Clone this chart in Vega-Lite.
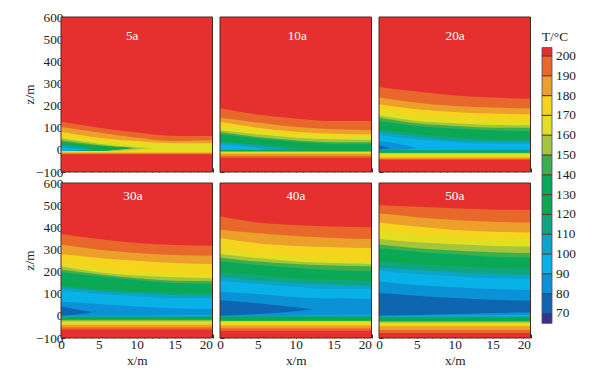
{"$schema":"https://vega.github.io/schema/vega-lite/v6.json","background":"white","padding":{"left":22,"top":10,"right":4,"bottom":4},"spacing":9,
"config":{"font":"Liberation Serif","view":{"stroke":null},"axis":{"grid":false,"labelFont":"Liberation Serif","titleFont":"Liberation Serif","labelFontSize":13.3,"titleFontSize":13.3,"titleFontWeight":"normal","labelColor":"#222","titleColor":"#222","tickColor":"#4a2a20","domain":false,"labelOverlap":false,"labelBound":false,"labelFlush":false,"zindex":1}},
"datasets":{"bar":[{"t":210,"lo":200,"hi":204.3},{"t":200,"lo":190,"hi":200},{"t":190,"lo":180,"hi":190},{"t":180,"lo":170,"hi":180},{"t":170,"lo":160,"hi":170},{"t":160,"lo":150,"hi":160},{"t":150,"lo":140,"hi":150},{"t":140,"lo":130,"hi":140},{"t":130,"lo":120,"hi":130},{"t":120,"lo":110,"hi":120},{"t":110,"lo":100,"hi":110},{"t":100,"lo":90,"hi":100},{"t":90,"lo":80,"hi":90},{"t":80,"lo":70,"hi":80},{"t":70,"lo":65,"hi":70}],
"iso":[
{"p":"5a","t":210,"x":0,"a":600,"b":-100},{"p":"5a","t":210,"x":20,"a":600,"b":-100},
{"p":"5a","t":200,"x":0,"a":127,"b":-20},{"p":"5a","t":200,"x":5,"a":100,"b":-20},{"p":"5a","t":200,"x":10,"a":78,"b":-20},{"p":"5a","t":200,"x":15,"a":63,"b":-20},{"p":"5a","t":200,"x":20,"a":63,"b":-20},
{"p":"5a","t":190,"x":0,"a":103,"b":-16},{"p":"5a","t":190,"x":5,"a":78,"b":-16},{"p":"5a","t":190,"x":10,"a":55,"b":-16},{"p":"5a","t":190,"x":15,"a":40,"b":-16},{"p":"5a","t":190,"x":20,"a":43,"b":-16},
{"p":"5a","t":180,"x":0,"a":82,"b":-12},{"p":"5a","t":180,"x":5,"a":55,"b":-12},{"p":"5a","t":180,"x":10,"a":40,"b":-12},{"p":"5a","t":180,"x":15,"a":30,"b":-12},{"p":"5a","t":180,"x":20,"a":30,"b":-12},
{"p":"5a","t":170,"x":0,"a":63,"b":-7},{"p":"5a","t":170,"x":5,"a":43,"b":-7},{"p":"5a","t":170,"x":10,"a":30,"b":-7},{"p":"5a","t":170,"x":15,"a":22,"b":-7},{"p":"5a","t":170,"x":20,"a":25,"b":-7},
{"p":"5a","t":160,"x":0,"a":52,"b":-5},{"p":"5a","t":160,"x":5,"a":28,"b":-5},{"p":"5a","t":160,"x":10,"a":12,"b":2},{"p":"5a","t":160,"x":12,"a":8,"b":8},
{"p":"5a","t":150,"x":0,"a":43,"b":-4},{"p":"5a","t":150,"x":5,"a":22,"b":-4},{"p":"5a","t":150,"x":9.7,"a":8,"b":8},
{"p":"5a","t":140,"x":0,"a":36,"b":-4},{"p":"5a","t":140,"x":5,"a":18,"b":-4},{"p":"5a","t":140,"x":9.5,"a":8,"b":8},
{"p":"5a","t":130,"x":0,"a":32,"b":-4},{"p":"5a","t":130,"x":5,"a":16,"b":-4},{"p":"5a","t":130,"x":9,"a":8,"b":8},
{"p":"5a","t":120,"x":0,"a":25,"b":-3},{"p":"5a","t":120,"x":2.5,"a":15,"b":-3},{"p":"5a","t":120,"x":4.5,"a":5,"b":5},
{"p":"5a","t":110,"x":0,"a":18,"b":-3},{"p":"5a","t":110,"x":2.5,"a":8,"b":-3},{"p":"5a","t":110,"x":4,"a":2,"b":2},
{"p":"5a","t":100,"x":0,"a":12,"b":-3},{"p":"5a","t":100,"x":2,"a":3,"b":-2},{"p":"5a","t":100,"x":3,"a":-1,"b":-1},

{"p":"10a","t":210,"x":0,"a":600,"b":-100},{"p":"10a","t":210,"x":20,"a":600,"b":-100},
{"p":"10a","t":200,"x":0,"a":188,"b":-36},{"p":"10a","t":200,"x":5,"a":160,"b":-36},{"p":"10a","t":200,"x":10,"a":142,"b":-36},{"p":"10a","t":200,"x":15,"a":130,"b":-36},{"p":"10a","t":200,"x":20,"a":130,"b":-36},
{"p":"10a","t":190,"x":0,"a":145,"b":-27},{"p":"10a","t":190,"x":5,"a":123,"b":-27},{"p":"10a","t":190,"x":10,"a":103,"b":-27},{"p":"10a","t":190,"x":15,"a":93,"b":-27},{"p":"10a","t":190,"x":20,"a":90,"b":-27},
{"p":"10a","t":180,"x":0,"a":127,"b":-17},{"p":"10a","t":180,"x":5,"a":100,"b":-17},{"p":"10a","t":180,"x":10,"a":82,"b":-17},{"p":"10a","t":180,"x":15,"a":73,"b":-17},{"p":"10a","t":180,"x":20,"a":70,"b":-17},
{"p":"10a","t":170,"x":0,"a":108,"b":-12},{"p":"10a","t":170,"x":5,"a":85,"b":-12},{"p":"10a","t":170,"x":10,"a":70,"b":-12},{"p":"10a","t":170,"x":15,"a":63,"b":-12},{"p":"10a","t":170,"x":20,"a":63,"b":-12},
{"p":"10a","t":160,"x":0,"a":88,"b":-9},{"p":"10a","t":160,"x":5,"a":70,"b":-9},{"p":"10a","t":160,"x":10,"a":55,"b":-9},{"p":"10a","t":160,"x":15,"a":48,"b":-9},{"p":"10a","t":160,"x":20,"a":45,"b":-9},
{"p":"10a","t":150,"x":0,"a":81,"b":-7},{"p":"10a","t":150,"x":5,"a":58,"b":-7},{"p":"10a","t":150,"x":10,"a":43,"b":-7},{"p":"10a","t":150,"x":15,"a":34,"b":-7},{"p":"10a","t":150,"x":20,"a":34,"b":-7},
{"p":"10a","t":140,"x":0,"a":70,"b":-5},{"p":"10a","t":140,"x":5,"a":52,"b":-5},{"p":"10a","t":140,"x":10,"a":37,"b":-5},{"p":"10a","t":140,"x":15,"a":28,"b":-5},{"p":"10a","t":140,"x":20,"a":28,"b":-5},
{"p":"10a","t":130,"x":0,"a":55,"b":-3},{"p":"10a","t":130,"x":5,"a":37,"b":-3},{"p":"10a","t":130,"x":10,"a":24,"b":-3},{"p":"10a","t":130,"x":15,"a":16,"b":-3},{"p":"10a","t":130,"x":20,"a":14,"b":-3},
{"p":"10a","t":120,"x":0,"a":37,"b":0},{"p":"10a","t":120,"x":5,"a":24,"b":0},{"p":"10a","t":120,"x":10,"a":10,"b":1},{"p":"10a","t":120,"x":12,"a":4,"b":4},
{"p":"10a","t":110,"x":0,"a":32,"b":0},{"p":"10a","t":110,"x":5,"a":19,"b":0},{"p":"10a","t":110,"x":9,"a":5,"b":5},
{"p":"10a","t":100,"x":0,"a":25,"b":0},{"p":"10a","t":100,"x":2.5,"a":18,"b":0},{"p":"10a","t":100,"x":5,"a":8,"b":1},{"p":"10a","t":100,"x":6,"a":3,"b":3},

{"p":"20a","t":210,"x":0,"a":600,"b":-100},{"p":"20a","t":210,"x":20,"a":600,"b":-100},
{"p":"20a","t":200,"x":0,"a":284,"b":-45},{"p":"20a","t":200,"x":5,"a":263,"b":-45},{"p":"20a","t":200,"x":10,"a":246,"b":-45},{"p":"20a","t":200,"x":15,"a":236,"b":-45},{"p":"20a","t":200,"x":20,"a":231,"b":-45},
{"p":"20a","t":190,"x":0,"a":236,"b":-40},{"p":"20a","t":190,"x":5,"a":213,"b":-40},{"p":"20a","t":190,"x":10,"a":198,"b":-40},{"p":"20a","t":190,"x":15,"a":191,"b":-40},{"p":"20a","t":190,"x":20,"a":188,"b":-40},
{"p":"20a","t":180,"x":0,"a":206,"b":-35},{"p":"20a","t":180,"x":5,"a":183,"b":-35},{"p":"20a","t":180,"x":10,"a":171,"b":-35},{"p":"20a","t":180,"x":15,"a":164,"b":-35},{"p":"20a","t":180,"x":20,"a":161,"b":-35},
{"p":"20a","t":170,"x":0,"a":183,"b":-23},{"p":"20a","t":170,"x":5,"a":156,"b":-23},{"p":"20a","t":170,"x":10,"a":142,"b":-23},{"p":"20a","t":170,"x":15,"a":133,"b":-23},{"p":"20a","t":170,"x":20,"a":130,"b":-23},
{"p":"20a","t":160,"x":0,"a":156,"b":-17},{"p":"20a","t":160,"x":5,"a":130,"b":-17},{"p":"20a","t":160,"x":10,"a":120,"b":-17},{"p":"20a","t":160,"x":15,"a":112,"b":-17},{"p":"20a","t":160,"x":20,"a":111,"b":-17},
{"p":"20a","t":150,"x":0,"a":145,"b":-14},{"p":"20a","t":150,"x":5,"a":120,"b":-14},{"p":"20a","t":150,"x":10,"a":108,"b":-14},{"p":"20a","t":150,"x":15,"a":100,"b":-14},{"p":"20a","t":150,"x":20,"a":99,"b":-14},
{"p":"20a","t":140,"x":0,"a":130,"b":-12},{"p":"20a","t":140,"x":5,"a":108,"b":-12},{"p":"20a","t":140,"x":10,"a":96,"b":-12},{"p":"20a","t":140,"x":15,"a":88,"b":-12},{"p":"20a","t":140,"x":20,"a":85,"b":-12},
{"p":"20a","t":130,"x":0,"a":110,"b":-7},{"p":"20a","t":130,"x":5,"a":90,"b":-7},{"p":"20a","t":130,"x":10,"a":77,"b":-7},{"p":"20a","t":130,"x":15,"a":68,"b":-7},{"p":"20a","t":130,"x":20,"a":65,"b":-7},
{"p":"20a","t":120,"x":0,"a":93,"b":-3},{"p":"20a","t":120,"x":5,"a":73,"b":-3},{"p":"20a","t":120,"x":10,"a":58,"b":-3},{"p":"20a","t":120,"x":15,"a":49,"b":-3},{"p":"20a","t":120,"x":20,"a":46,"b":-3},
{"p":"20a","t":110,"x":0,"a":81,"b":-2},{"p":"20a","t":110,"x":5,"a":60,"b":-2},{"p":"20a","t":110,"x":10,"a":45,"b":-2},{"p":"20a","t":110,"x":15,"a":40,"b":-2},{"p":"20a","t":110,"x":20,"a":37,"b":-2},
{"p":"20a","t":100,"x":0,"a":67,"b":-1},{"p":"20a","t":100,"x":5,"a":48,"b":-1},{"p":"20a","t":100,"x":10,"a":36,"b":0},{"p":"20a","t":100,"x":15,"a":28,"b":1},{"p":"20a","t":100,"x":20,"a":28,"b":2},
{"p":"20a","t":90,"x":0,"a":40,"b":0},{"p":"20a","t":90,"x":2.5,"a":28,"b":0},{"p":"20a","t":90,"x":5,"a":8,"b":8},
{"p":"20a","t":80,"x":0,"a":20,"b":0},{"p":"20a","t":80,"x":1.5,"a":8,"b":8},

{"p":"30a","t":210,"x":0,"a":600,"b":-100},{"p":"30a","t":210,"x":20,"a":600,"b":-100},
{"p":"30a","t":200,"x":0,"a":370,"b":-62},{"p":"30a","t":200,"x":5,"a":347,"b":-62},{"p":"30a","t":200,"x":10,"a":329,"b":-62},{"p":"30a","t":200,"x":15,"a":320,"b":-62},{"p":"30a","t":200,"x":20,"a":317,"b":-62},
{"p":"30a","t":190,"x":0,"a":322,"b":-52},{"p":"30a","t":190,"x":5,"a":299,"b":-52},{"p":"30a","t":190,"x":10,"a":284,"b":-52},{"p":"30a","t":190,"x":15,"a":275,"b":-52},{"p":"30a","t":190,"x":20,"a":272,"b":-52},
{"p":"30a","t":180,"x":0,"a":279,"b":-40},{"p":"30a","t":180,"x":5,"a":261,"b":-40},{"p":"30a","t":180,"x":10,"a":249,"b":-40},{"p":"30a","t":180,"x":15,"a":239,"b":-40},{"p":"30a","t":180,"x":20,"a":234,"b":-40},
{"p":"30a","t":170,"x":0,"a":239,"b":-32},{"p":"30a","t":170,"x":5,"a":215,"b":-32},{"p":"30a","t":170,"x":10,"a":201,"b":-32},{"p":"30a","t":170,"x":15,"a":192,"b":-32},{"p":"30a","t":170,"x":20,"a":189,"b":-32},
{"p":"30a","t":160,"x":0,"a":224,"b":-25},{"p":"30a","t":160,"x":5,"a":197,"b":-25},{"p":"30a","t":160,"x":10,"a":182,"b":-25},{"p":"30a","t":160,"x":15,"a":174,"b":-25},{"p":"30a","t":160,"x":20,"a":170,"b":-25},
{"p":"30a","t":150,"x":0,"a":209,"b":-20},{"p":"30a","t":150,"x":5,"a":188,"b":-20},{"p":"30a","t":150,"x":10,"a":170,"b":-20},{"p":"30a","t":150,"x":15,"a":159,"b":-20},{"p":"30a","t":150,"x":20,"a":157,"b":-20},
{"p":"30a","t":140,"x":0,"a":197,"b":-17},{"p":"30a","t":140,"x":5,"a":179,"b":-17},{"p":"30a","t":140,"x":10,"a":162,"b":-17},{"p":"30a","t":140,"x":15,"a":148,"b":-17},{"p":"30a","t":140,"x":20,"a":144,"b":-17},
{"p":"30a","t":130,"x":0,"a":166,"b":-12},{"p":"30a","t":130,"x":5,"a":150,"b":-12},{"p":"30a","t":130,"x":10,"a":136,"b":-12},{"p":"30a","t":130,"x":15,"a":126,"b":-12},{"p":"30a","t":130,"x":20,"a":123,"b":-12},
{"p":"30a","t":120,"x":0,"a":136,"b":-7},{"p":"30a","t":120,"x":5,"a":121,"b":-7},{"p":"30a","t":120,"x":10,"a":111,"b":-7},{"p":"30a","t":120,"x":15,"a":105,"b":-7},{"p":"30a","t":120,"x":20,"a":102,"b":-7},
{"p":"30a","t":110,"x":0,"a":129,"b":-3},{"p":"30a","t":110,"x":5,"a":111,"b":-3},{"p":"30a","t":110,"x":10,"a":102,"b":-3},{"p":"30a","t":110,"x":15,"a":94,"b":-3},{"p":"30a","t":110,"x":20,"a":91,"b":-3},
{"p":"30a","t":100,"x":0,"a":117,"b":-1},{"p":"30a","t":100,"x":5,"a":99,"b":-1},{"p":"30a","t":100,"x":10,"a":88,"b":-1},{"p":"30a","t":100,"x":15,"a":79,"b":-1},{"p":"30a","t":100,"x":20,"a":79,"b":-1},
{"p":"30a","t":90,"x":0,"a":64,"b":0},{"p":"30a","t":90,"x":5,"a":54,"b":0},{"p":"30a","t":90,"x":10,"a":42,"b":1},{"p":"30a","t":90,"x":15,"a":34,"b":3},{"p":"30a","t":90,"x":20,"a":31,"b":4},
{"p":"30a","t":80,"x":0,"a":42,"b":1},{"p":"30a","t":80,"x":2,"a":30,"b":5},{"p":"30a","t":80,"x":4.2,"a":16,"b":16},

{"p":"40a","t":210,"x":0,"a":600,"b":-100},{"p":"40a","t":210,"x":20,"a":600,"b":-100},
{"p":"40a","t":200,"x":0,"a":450,"b":-67},{"p":"40a","t":200,"x":5,"a":422,"b":-67},{"p":"40a","t":200,"x":10,"a":410,"b":-67},{"p":"40a","t":200,"x":15,"a":403,"b":-67},{"p":"40a","t":200,"x":20,"a":400,"b":-67},
{"p":"40a","t":190,"x":0,"a":389,"b":-56},{"p":"40a","t":190,"x":5,"a":373,"b":-56},{"p":"40a","t":190,"x":10,"a":361,"b":-56},{"p":"40a","t":190,"x":15,"a":352,"b":-56},{"p":"40a","t":190,"x":20,"a":347,"b":-56},
{"p":"40a","t":180,"x":0,"a":352,"b":-44},{"p":"40a","t":180,"x":5,"a":328,"b":-44},{"p":"40a","t":180,"x":10,"a":316,"b":-44},{"p":"40a","t":180,"x":15,"a":310,"b":-44},{"p":"40a","t":180,"x":20,"a":307,"b":-44},
{"p":"40a","t":170,"x":0,"a":299,"b":-35},{"p":"40a","t":170,"x":5,"a":279,"b":-35},{"p":"40a","t":170,"x":10,"a":267,"b":-35},{"p":"40a","t":170,"x":15,"a":257,"b":-35},{"p":"40a","t":170,"x":20,"a":252,"b":-35},
{"p":"40a","t":160,"x":0,"a":279,"b":-26},{"p":"40a","t":160,"x":5,"a":261,"b":-26},{"p":"40a","t":160,"x":10,"a":246,"b":-26},{"p":"40a","t":160,"x":15,"a":239,"b":-26},{"p":"40a","t":160,"x":20,"a":234,"b":-26},
{"p":"40a","t":150,"x":0,"a":264,"b":-23},{"p":"40a","t":150,"x":5,"a":245,"b":-23},{"p":"40a","t":150,"x":10,"a":234,"b":-23},{"p":"40a","t":150,"x":15,"a":227,"b":-23},{"p":"40a","t":150,"x":20,"a":224,"b":-23},
{"p":"40a","t":140,"x":0,"a":245,"b":-20},{"p":"40a","t":140,"x":5,"a":230,"b":-20},{"p":"40a","t":140,"x":10,"a":216,"b":-20},{"p":"40a","t":140,"x":15,"a":206,"b":-20},{"p":"40a","t":140,"x":20,"a":201,"b":-20},
{"p":"40a","t":130,"x":0,"a":221,"b":-12},{"p":"40a","t":130,"x":5,"a":207,"b":-12},{"p":"40a","t":130,"x":10,"a":193,"b":-12},{"p":"40a","t":130,"x":15,"a":185,"b":-12},{"p":"40a","t":130,"x":20,"a":180,"b":-12},
{"p":"40a","t":120,"x":0,"a":197,"b":-5},{"p":"40a","t":120,"x":5,"a":185,"b":-5},{"p":"40a","t":120,"x":10,"a":171,"b":-5},{"p":"40a","t":120,"x":15,"a":164,"b":-5},{"p":"40a","t":120,"x":20,"a":159,"b":-5},
{"p":"40a","t":110,"x":0,"a":177,"b":-2},{"p":"40a","t":110,"x":5,"a":159,"b":-2},{"p":"40a","t":110,"x":10,"a":148,"b":-2},{"p":"40a","t":110,"x":15,"a":141,"b":-2},{"p":"40a","t":110,"x":20,"a":136,"b":-2},
{"p":"40a","t":100,"x":0,"a":159,"b":0},{"p":"40a","t":100,"x":5,"a":144,"b":0},{"p":"40a","t":100,"x":10,"a":132,"b":0},{"p":"40a","t":100,"x":15,"a":121,"b":0},{"p":"40a","t":100,"x":20,"a":121,"b":0},
{"p":"40a","t":90,"x":0,"a":109,"b":1},{"p":"40a","t":90,"x":5,"a":99,"b":1},{"p":"40a","t":90,"x":10,"a":84,"b":2},{"p":"40a","t":90,"x":15,"a":79,"b":3},{"p":"40a","t":90,"x":20,"a":76,"b":4},
{"p":"40a","t":80,"x":0,"a":72,"b":1},{"p":"40a","t":80,"x":5,"a":57,"b":8},{"p":"40a","t":80,"x":10,"a":39,"b":21},{"p":"40a","t":80,"x":12.3,"a":30,"b":30},

{"p":"50a","t":210,"x":0,"a":600,"b":-100},{"p":"50a","t":210,"x":20,"a":600,"b":-100},
{"p":"50a","t":200,"x":0,"a":501,"b":-77},{"p":"50a","t":200,"x":5,"a":493,"b":-77},{"p":"50a","t":200,"x":10,"a":486,"b":-77},{"p":"50a","t":200,"x":15,"a":480,"b":-77},{"p":"50a","t":200,"x":20,"a":478,"b":-77},
{"p":"50a","t":190,"x":0,"a":463,"b":-64},{"p":"50a","t":190,"x":5,"a":445,"b":-64},{"p":"50a","t":190,"x":10,"a":433,"b":-64},{"p":"50a","t":190,"x":15,"a":425,"b":-64},{"p":"50a","t":190,"x":20,"a":422,"b":-64},
{"p":"50a","t":180,"x":0,"a":422,"b":-47},{"p":"50a","t":180,"x":5,"a":403,"b":-47},{"p":"50a","t":180,"x":10,"a":388,"b":-47},{"p":"50a","t":180,"x":15,"a":380,"b":-47},{"p":"50a","t":180,"x":20,"a":377,"b":-47},
{"p":"50a","t":170,"x":0,"a":385,"b":-38},{"p":"50a","t":170,"x":5,"a":365,"b":-38},{"p":"50a","t":170,"x":10,"a":356,"b":-38},{"p":"50a","t":170,"x":15,"a":350,"b":-38},{"p":"50a","t":170,"x":20,"a":347,"b":-38},
{"p":"50a","t":160,"x":0,"a":347,"b":-31},{"p":"50a","t":160,"x":5,"a":332,"b":-31},{"p":"50a","t":160,"x":10,"a":323,"b":-31},{"p":"50a","t":160,"x":15,"a":316,"b":-31},{"p":"50a","t":160,"x":20,"a":313,"b":-31},
{"p":"50a","t":150,"x":0,"a":322,"b":-26},{"p":"50a","t":150,"x":5,"a":305,"b":-26},{"p":"50a","t":150,"x":10,"a":295,"b":-26},{"p":"50a","t":150,"x":15,"a":287,"b":-26},{"p":"50a","t":150,"x":20,"a":284,"b":-26},
{"p":"50a","t":140,"x":0,"a":305,"b":-23},{"p":"50a","t":140,"x":5,"a":290,"b":-23},{"p":"50a","t":140,"x":10,"a":278,"b":-23},{"p":"50a","t":140,"x":15,"a":267,"b":-23},{"p":"50a","t":140,"x":20,"a":264,"b":-23},
{"p":"50a","t":130,"x":0,"a":277,"b":-15},{"p":"50a","t":130,"x":5,"a":262,"b":-15},{"p":"50a","t":130,"x":10,"a":251,"b":-15},{"p":"50a","t":130,"x":15,"a":243,"b":-15},{"p":"50a","t":130,"x":20,"a":240,"b":-15},
{"p":"50a","t":120,"x":0,"a":249,"b":-8},{"p":"50a","t":120,"x":5,"a":234,"b":-8},{"p":"50a","t":120,"x":10,"a":224,"b":-8},{"p":"50a","t":120,"x":15,"a":218,"b":-8},{"p":"50a","t":120,"x":20,"a":215,"b":-8},
{"p":"50a","t":110,"x":0,"a":219,"b":-5},{"p":"50a","t":110,"x":5,"a":207,"b":-5},{"p":"50a","t":110,"x":10,"a":197,"b":-5},{"p":"50a","t":110,"x":15,"a":189,"b":-5},{"p":"50a","t":110,"x":20,"a":186,"b":-5},
{"p":"50a","t":100,"x":0,"a":204,"b":-1},{"p":"50a","t":100,"x":5,"a":189,"b":-1},{"p":"50a","t":100,"x":10,"a":179,"b":-1},{"p":"50a","t":100,"x":15,"a":170,"b":-1},{"p":"50a","t":100,"x":20,"a":167,"b":-1},
{"p":"50a","t":90,"x":0,"a":155,"b":0},{"p":"50a","t":90,"x":5,"a":139,"b":1},{"p":"50a","t":90,"x":10,"a":129,"b":2},{"p":"50a","t":90,"x":15,"a":121,"b":3},{"p":"50a","t":90,"x":20,"a":117,"b":4},
{"p":"50a","t":80,"x":0,"a":103,"b":1},{"p":"50a","t":80,"x":5,"a":91,"b":4},{"p":"50a","t":80,"x":10,"a":81,"b":8},{"p":"50a","t":80,"x":15,"a":73,"b":13},{"p":"50a","t":80,"x":20,"a":69,"b":16}
]},
"data":{"name":"iso"},
"hconcat":[
{"concat":[
{"width":151.5,"height":155,"transform":[{"filter":"datum.p==='5a'"}],"layer":[
{"mark":{"type":"area","interpolate":"monotone"},"encoding":{
"x":{"field":"x","type":"quantitative","scale":{"domain":[0,20],"nice":false},"axis":{"labels":false,"title":null,"tickCount":20,"tickSize":{"condition":{"test":"datum.value%5===0","value":-4},"value":-2}}},
"y":{"field":"a","type":"quantitative","scale":{"domain":[-100,600],"nice":false},"axis":{"title":"z/m","titleX":-25,"titleY":77,"tickCount":35,"format":"d","labelPadding":2,"labelExpr":"datum.value%100===0?datum.label:''","tickSize":{"condition":{"test":"datum.value%100===0","value":-4},"value":-2}}},
"y2":{"field":"b"},
"color":{"field":"t","type":"ordinal","legend":null,"scale":{"domain":[210,200,190,180,170,160,150,140,130,120,110,100,90,80,70],"range":["#e6302f","#e8682c","#ec9f2b","#f5d41d","#e2df22","#a2c53c","#3bb04a","#09a85a","#0ba84f","#10a57f","#0ba5c9","#08b1e8","#0b92d6","#0f66b0","#3a3090"]}}}},
{"transform":[{"filter":"datum.t===210&&datum.x===0"}],"mark":{"type":"rect","fill":null,"stroke":"#4a2a20","strokeWidth":1},"encoding":{"x":{"datum":0,"type":"quantitative"},"x2":{"datum":20},"y":{"datum":-100,"type":"quantitative"},"y2":{"datum":600}}},
{"transform":[{"filter":"datum.t===210&&datum.x===0"}],"mark":{"type":"text","color":"white","fontSize":13.3,"font":"Liberation Serif"},"encoding":{"x":{"datum":9.4,"type":"quantitative"},"y":{"datum":514,"type":"quantitative"},"text":{"field":"p"}}}]},
{"width":151.5,"height":155,"transform":[{"filter":"datum.p==='10a'"}],"layer":[
{"mark":{"type":"area","interpolate":"monotone"},"encoding":{
"x":{"field":"x","type":"quantitative","scale":{"domain":[0,20],"nice":false},"axis":{"labels":false,"title":null,"tickCount":20,"tickSize":{"condition":{"test":"datum.value%5===0","value":-4},"value":-2}}},
"y":{"field":"a","type":"quantitative","scale":{"domain":[-100,600],"nice":false},"axis":{"labels":false,"title":null,"tickCount":35,"tickSize":{"condition":{"test":"datum.value%100===0","value":-4},"value":-2}}},
"y2":{"field":"b"},
"color":{"field":"t","type":"ordinal","legend":null,"scale":{"domain":[210,200,190,180,170,160,150,140,130,120,110,100,90,80,70],"range":["#e6302f","#e8682c","#ec9f2b","#f5d41d","#e2df22","#a2c53c","#3bb04a","#09a85a","#0ba84f","#10a57f","#0ba5c9","#08b1e8","#0b92d6","#0f66b0","#3a3090"]}}}},
{"transform":[{"filter":"datum.t===210&&datum.x===0"}],"mark":{"type":"rect","fill":null,"stroke":"#4a2a20","strokeWidth":1},"encoding":{"x":{"datum":0,"type":"quantitative"},"x2":{"datum":20},"y":{"datum":-100,"type":"quantitative"},"y2":{"datum":600}}},
{"transform":[{"filter":"datum.t===210&&datum.x===0"}],"mark":{"type":"text","color":"white","fontSize":13.3,"font":"Liberation Serif"},"encoding":{"x":{"datum":10.2,"type":"quantitative"},"y":{"datum":514,"type":"quantitative"},"text":{"field":"p"}}}]},
{"width":151.5,"height":155,"transform":[{"filter":"datum.p==='20a'"}],"layer":[
{"mark":{"type":"area","interpolate":"monotone"},"encoding":{
"x":{"field":"x","type":"quantitative","scale":{"domain":[0,20],"nice":false},"axis":{"labels":false,"title":null,"tickCount":20,"tickSize":{"condition":{"test":"datum.value%5===0","value":-4},"value":-2}}},
"y":{"field":"a","type":"quantitative","scale":{"domain":[-100,600],"nice":false},"axis":{"labels":false,"title":null,"tickCount":35,"tickSize":{"condition":{"test":"datum.value%100===0","value":-4},"value":-2}}},
"y2":{"field":"b"},
"color":{"field":"t","type":"ordinal","legend":null,"scale":{"domain":[210,200,190,180,170,160,150,140,130,120,110,100,90,80,70],"range":["#e6302f","#e8682c","#ec9f2b","#f5d41d","#e2df22","#a2c53c","#3bb04a","#09a85a","#0ba84f","#10a57f","#0ba5c9","#08b1e8","#0b92d6","#0f66b0","#3a3090"]}}}},
{"transform":[{"filter":"datum.t===210&&datum.x===0"}],"mark":{"type":"rect","fill":null,"stroke":"#4a2a20","strokeWidth":1},"encoding":{"x":{"datum":0,"type":"quantitative"},"x2":{"datum":20},"y":{"datum":-100,"type":"quantitative"},"y2":{"datum":600}}},
{"transform":[{"filter":"datum.t===210&&datum.x===0"}],"mark":{"type":"text","color":"white","fontSize":13.3,"font":"Liberation Serif"},"encoding":{"x":{"datum":10.05,"type":"quantitative"},"y":{"datum":514,"type":"quantitative"},"text":{"field":"p"}}}]},
{"width":151.5,"height":155,"transform":[{"filter":"datum.p==='30a'"}],"layer":[
{"mark":{"type":"area","interpolate":"monotone"},"encoding":{
"x":{"field":"x","type":"quantitative","scale":{"domain":[0,20],"nice":false},"axis":{"title":"x/m","titlePadding":1,"tickCount":20,"format":"d","labelPadding":3,"labelAlign":{"condition":{"test":"datum.value===20","value":"right"},"value":"center"},"labelExpr":"datum.value%5===0?datum.label:''","tickSize":{"condition":{"test":"datum.value%5===0","value":-4},"value":-2}}},
"y":{"field":"a","type":"quantitative","scale":{"domain":[-100,600],"nice":false},"axis":{"title":"z/m","titleX":-25,"titleY":77,"tickCount":35,"format":"d","labelPadding":2,"labelExpr":"datum.value%100===0?datum.label:''","tickSize":{"condition":{"test":"datum.value%100===0","value":-4},"value":-2}}},
"y2":{"field":"b"},
"color":{"field":"t","type":"ordinal","legend":null,"scale":{"domain":[210,200,190,180,170,160,150,140,130,120,110,100,90,80,70],"range":["#e6302f","#e8682c","#ec9f2b","#f5d41d","#e2df22","#a2c53c","#3bb04a","#09a85a","#0ba84f","#10a57f","#0ba5c9","#08b1e8","#0b92d6","#0f66b0","#3a3090"]}}}},
{"transform":[{"filter":"datum.t===210&&datum.x===0"}],"mark":{"type":"rect","fill":null,"stroke":"#4a2a20","strokeWidth":1},"encoding":{"x":{"datum":0,"type":"quantitative"},"x2":{"datum":20},"y":{"datum":-100,"type":"quantitative"},"y2":{"datum":600}}},
{"transform":[{"filter":"datum.t===210&&datum.x===0"}],"mark":{"type":"text","color":"white","fontSize":13.3,"font":"Liberation Serif"},"encoding":{"x":{"datum":9.5,"type":"quantitative"},"y":{"datum":543,"type":"quantitative"},"text":{"field":"p"}}}]},
{"width":151.5,"height":155,"transform":[{"filter":"datum.p==='40a'"}],"layer":[
{"mark":{"type":"area","interpolate":"monotone"},"encoding":{
"x":{"field":"x","type":"quantitative","scale":{"domain":[0,20],"nice":false},"axis":{"title":"x/m","titlePadding":1,"tickCount":20,"format":"d","labelPadding":3,"labelAlign":{"condition":{"test":"datum.value===20","value":"right"},"value":"center"},"labelExpr":"datum.value%5===0?datum.label:''","tickSize":{"condition":{"test":"datum.value%5===0","value":-4},"value":-2}}},
"y":{"field":"a","type":"quantitative","scale":{"domain":[-100,600],"nice":false},"axis":{"labels":false,"title":null,"tickCount":35,"tickSize":{"condition":{"test":"datum.value%100===0","value":-4},"value":-2}}},
"y2":{"field":"b"},
"color":{"field":"t","type":"ordinal","legend":null,"scale":{"domain":[210,200,190,180,170,160,150,140,130,120,110,100,90,80,70],"range":["#e6302f","#e8682c","#ec9f2b","#f5d41d","#e2df22","#a2c53c","#3bb04a","#09a85a","#0ba84f","#10a57f","#0ba5c9","#08b1e8","#0b92d6","#0f66b0","#3a3090"]}}}},
{"transform":[{"filter":"datum.t===210&&datum.x===0"}],"mark":{"type":"rect","fill":null,"stroke":"#4a2a20","strokeWidth":1},"encoding":{"x":{"datum":0,"type":"quantitative"},"x2":{"datum":20},"y":{"datum":-100,"type":"quantitative"},"y2":{"datum":600}}},
{"transform":[{"filter":"datum.t===210&&datum.x===0"}],"mark":{"type":"text","color":"white","fontSize":13.3,"font":"Liberation Serif"},"encoding":{"x":{"datum":10,"type":"quantitative"},"y":{"datum":543,"type":"quantitative"},"text":{"field":"p"}}}]},
{"width":151.5,"height":155,"transform":[{"filter":"datum.p==='50a'"}],"layer":[
{"mark":{"type":"area","interpolate":"monotone"},"encoding":{
"x":{"field":"x","type":"quantitative","scale":{"domain":[0,20],"nice":false},"axis":{"title":"x/m","titlePadding":1,"tickCount":20,"format":"d","labelPadding":3,"labelAlign":{"condition":{"test":"datum.value===20","value":"right"},"value":"center"},"labelExpr":"datum.value%5===0?datum.label:''","tickSize":{"condition":{"test":"datum.value%5===0","value":-4},"value":-2}}},
"y":{"field":"a","type":"quantitative","scale":{"domain":[-100,600],"nice":false},"axis":{"labels":false,"title":null,"tickCount":35,"tickSize":{"condition":{"test":"datum.value%100===0","value":-4},"value":-2}}},
"y2":{"field":"b"},
"color":{"field":"t","type":"ordinal","legend":null,"scale":{"domain":[210,200,190,180,170,160,150,140,130,120,110,100,90,80,70],"range":["#e6302f","#e8682c","#ec9f2b","#f5d41d","#e2df22","#a2c53c","#3bb04a","#09a85a","#0ba84f","#10a57f","#0ba5c9","#08b1e8","#0b92d6","#0f66b0","#3a3090"]}}}},
{"transform":[{"filter":"datum.t===210&&datum.x===0"}],"mark":{"type":"rect","fill":null,"stroke":"#4a2a20","strokeWidth":1},"encoding":{"x":{"datum":0,"type":"quantitative"},"x2":{"datum":20},"y":{"datum":-100,"type":"quantitative"},"y2":{"datum":600}}},
{"transform":[{"filter":"datum.t===210&&datum.x===0"}],"mark":{"type":"text","color":"white","fontSize":13.3,"font":"Liberation Serif"},"encoding":{"x":{"datum":10,"type":"quantitative"},"y":{"datum":543,"type":"quantitative"},"text":{"field":"p"}}}]}
],"columns":3,"spacing":{"row":11,"column":7},"bounds":"flush"},
{"data":{"name":"bar"},"width":10,"height":321,"layer":[
{"mark":{"type":"rect"},"encoding":{
"y":{"field":"hi","type":"quantitative","scale":{"domain":[57.6,219.7],"nice":false},"axis":null},
"y2":{"field":"lo"},
"color":{"field":"t","type":"ordinal","legend":null,"scale":{"domain":[210,200,190,180,170,160,150,140,130,120,110,100,90,80,70],"range":["#e6302f","#e8682c","#ec9f2b","#f5d41d","#e2df22","#a2c53c","#3bb04a","#09a85a","#0ba84f","#10a57f","#0ba5c9","#08b1e8","#0b92d6","#0f66b0","#3a3090"]}}}},
{"transform":[{"filter":"datum.t>70"}],"mark":{"type":"rule","color":"#5a3f20","strokeWidth":1.2},"encoding":{"y":{"field":"lo","type":"quantitative"}}},
{"transform":[{"filter":"datum.t>70"}],"mark":{"type":"text","font":"Liberation Serif","fontSize":13.3,"color":"#222","align":"left","dx":9},"encoding":{"y":{"field":"lo","type":"quantitative"},"text":{"field":"lo","type":"quantitative","format":"d"}}},
{"transform":[{"filter":"datum.t===210"}],"mark":{"type":"rect","fill":null,"stroke":"#4d4a78","strokeWidth":0.8},"encoding":{"y":{"datum":65,"type":"quantitative"},"y2":{"datum":204.3}}},
{"transform":[{"filter":"datum.t===210"}],"mark":{"type":"text","text":"T/°C","font":"Liberation Serif","fontSize":13.3,"color":"#222","align":"left","dx":-5},"encoding":{"y":{"datum":209.7,"type":"quantitative"}}}
]}
]}
